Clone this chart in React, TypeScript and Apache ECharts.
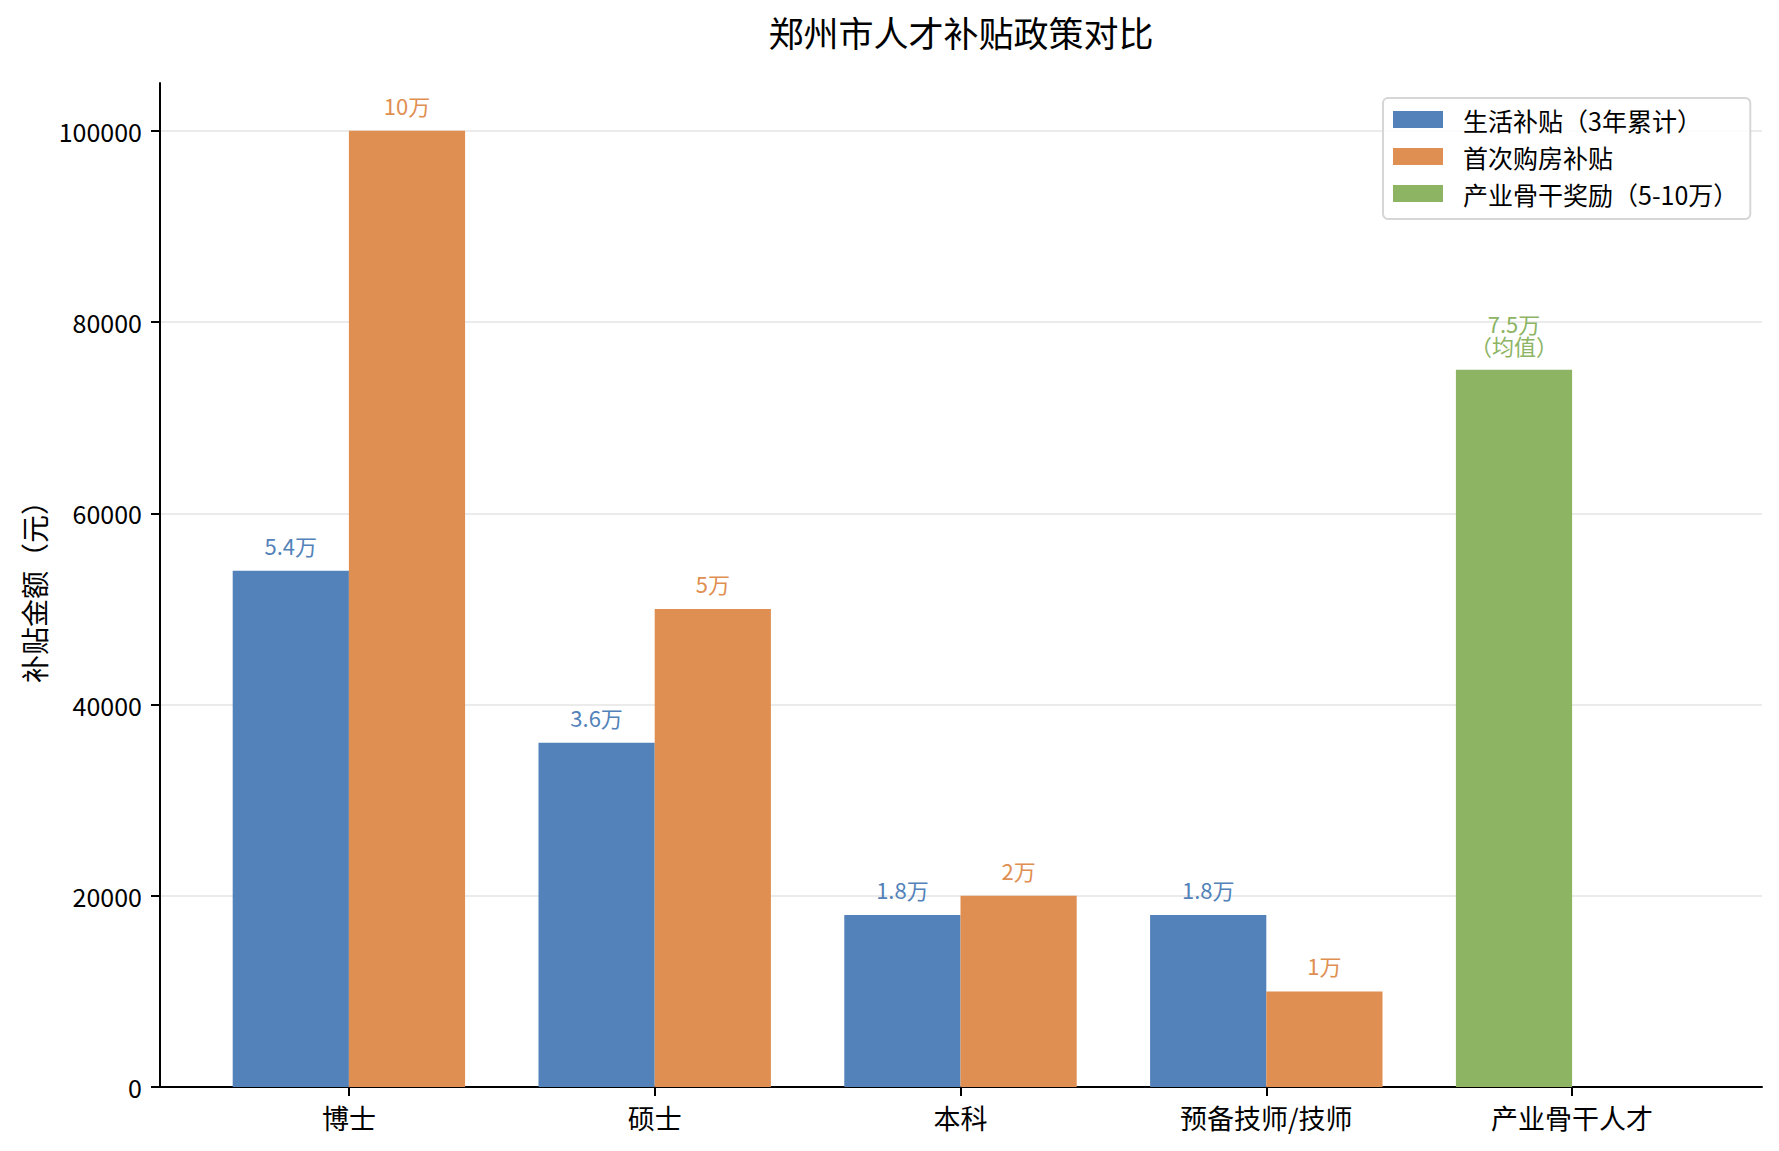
import React, { useRef, useEffect } from 'react'
import * as echarts from 'echarts'

const FONT = '"Noto Sans CJK SC", "Noto Sans", sans-serif'

const categories = ['博士', '硕士', '本科', '预备技师/技师', '产业骨干人才']
const livingSubsidy = [54000, 36000, 18000, 18000, null]
const housingSubsidy = [100000, 50000, 20000, 10000, null]
const backboneAward = [null, null, null, null, 75000]
const seriesNames = ['生活补贴（3年累计）', '首次购房补贴', '产业骨干奖励（5-10万）']
const colors = ['#5282b9', '#df8f51', '#8cb463']
const yTickMax = 100000
const yAxisMax = 105000
const yTickStep = 20000

const toData = (arr: (number | null)[]) => arr.map((v) => (v == null ? '-' : v))
const wan = (v: number) => `${v / 10000}万`

const App: React.FC = () => {
  const chartRef = useRef<HTMLDivElement>(null)

  useEffect(() => {
    document.body.style.margin = '0'
    if (!chartRef.current) return
    const chart = echarts.init(chartRef.current, undefined, { renderer: 'svg' })

    const label = (color: string, formatter: (p: any) => string, lineHeight = 24) => ({
      show: true,
      position: 'top',
      distance: 14,
      color,
      fontSize: 22,
      lineHeight,
      fontFamily: FONT,
      formatter,
    })

    const option = {
      animation: false,
      textStyle: { fontFamily: FONT },
      graphic: [
        {
          type: 'text',
          x: 961,
          y: 14,
          style: {
            text: '郑州市人才补贴政策对比',
            fontSize: 35,
            fontFamily: FONT,
            fill: '#000',
            align: 'center',
            verticalAlign: 'top',
          },
        },
      ],
      legend: {
        orient: 'vertical',
        left: 1383,
        top: 98,
        padding: [9, 12, 13, 10],
        itemWidth: 50,
        itemHeight: 17,
        itemGap: 12,
        icon: 'rect',
        backgroundColor: 'rgba(255,255,255,0.85)',
        borderColor: '#d6d6d6',
        borderWidth: 2,
        borderRadius: 5,
        textStyle: { fontSize: 25, color: '#000', fontFamily: FONT, padding: [0, 0, 0, 15] },
        data: seriesNames,
      },
      grid: [
        // spines
        { left: 160, right: 17, top: 83, bottom: 64 },
        // bars + category axis
        { left: 196, right: 54, top: 83, bottom: 64 },
        // y ticks and gridlines up to 100000
        { left: 160, right: 17, top: 131, bottom: 64 },
      ],
      xAxis: [
        {
          gridIndex: 0,
          type: 'value',
          min: 0,
          max: 1,
          axisLine: { show: true, lineStyle: { color: '#000', width: 2 } },
          axisTick: { show: false },
          axisLabel: { show: false },
          splitLine: { show: false },
        },
        {
          gridIndex: 1,
          type: 'category',
          data: categories,
          axisLine: { show: false },
          axisTick: { show: true, alignWithLabel: true, length: 9, lineStyle: { color: '#000', width: 2 } },
          axisLabel: { fontSize: 27, color: '#000', margin: 17, fontFamily: FONT },
          splitLine: { show: false },
        },
        {
          gridIndex: 2,
          type: 'value',
          show: false,
        },
      ],
      yAxis: [
        {
          gridIndex: 0,
          type: 'value',
          min: 0,
          max: 1,
          name: '补贴金额（元）',
          nameLocation: 'middle',
          nameRotate: 90,
          nameGap: 112,
          nameTextStyle: { fontSize: 28, color: '#000', fontFamily: FONT },
          axisLine: { show: true, lineStyle: { color: '#000', width: 2 } },
          axisTick: { show: false },
          axisLabel: { show: false },
          splitLine: { show: false },
        },
        {
          gridIndex: 1,
          type: 'value',
          min: 0,
          max: yAxisMax,
          show: false,
          splitLine: { show: false },
        },
        {
          gridIndex: 2,
          type: 'value',
          min: 0,
          max: yTickMax,
          interval: yTickStep,
          axisLine: { show: false },
          axisTick: { show: true, length: 9, lineStyle: { color: '#000', width: 2 } },
          axisLabel: {
            fontSize: 25,
            color: '#000',
            margin: 18,
            fontFamily: FONT,
            formatter: (v: number) => String(v),
          },
          splitLine: { show: true, lineStyle: { color: '#e4e4e4', width: 1.5 } },
        },
      ],
      series: [
        {
          name: seriesNames[0],
          type: 'bar',
          xAxisIndex: 1,
          yAxisIndex: 1,
          stack: 'left',
          barWidth: '38%',
          barGap: '0%',
          data: toData(livingSubsidy),
          itemStyle: { color: colors[0] },
          label: label(colors[0], (p) => wan(p.value)),
        },
        {
          name: seriesNames[1],
          type: 'bar',
          xAxisIndex: 1,
          yAxisIndex: 1,
          barWidth: '38%',
          barGap: '0%',
          data: toData(housingSubsidy),
          itemStyle: { color: colors[1] },
          label: label(colors[1], (p) => wan(p.value)),
        },
        {
          name: seriesNames[2],
          type: 'bar',
          xAxisIndex: 1,
          yAxisIndex: 1,
          stack: 'left',
          barWidth: '38%',
          barGap: '0%',
          data: toData(backboneAward),
          itemStyle: { color: colors[2] },
          label: label(colors[2], (p) => `${wan(p.value)}\n（均值）`, 22),
        },
      ],
    }

    chart.setOption(option as any)

    return () => {
      chart.dispose()
    }
  }, [])

  return <div ref={chartRef} style={{ width: '1779px', height: '1151px' }} />
}

export default App
